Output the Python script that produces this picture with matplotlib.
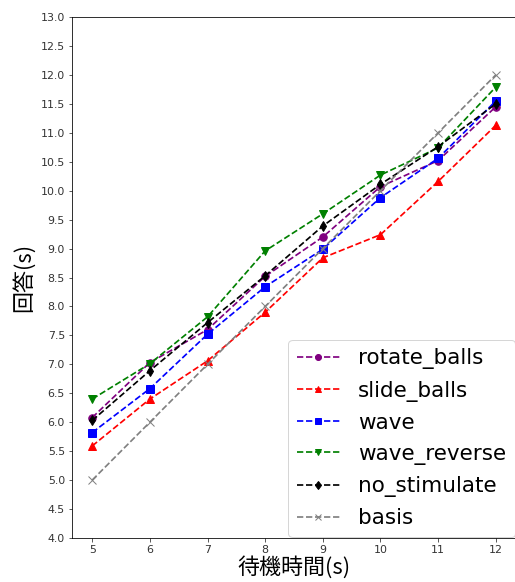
import numpy as np
import matplotlib
matplotlib.use('Agg')
import matplotlib.pyplot as plt

plt.rcParams['font.family'] = ['DejaVu Sans', 'Noto Sans CJK JP']

wait_time = [5, 6, 7, 8, 9, 10, 11, 12]
rotate_balls = [6.08, 7.03, 7.6, 8.52, 9.2, 10.07, 10.52, 11.45]
slide_balls = [5.59, 6.4, 7.06, 7.9, 8.84, 9.24, 10.16, 11.13]
wave = [5.82, 6.58, 7.52, 8.34, 8.99, 9.88, 10.56, 11.55]
wave_reverse = [6.4, 7.01, 7.82, 8.96, 9.6, 10.27, 10.74, 11.79]
no_stimulate = [6.03, 6.89, 7.72, 8.53, 9.39, 10.11, 10.76, 11.5]
basis = [5, 6, 7, 8, 9, 10, 11, 12]

fig = plt.figure(figsize=(515/72, 582/72), dpi=72)
ax = fig.add_axes([72/515, 1-538/582, 444/515, 521/582])

lw = 1.7
ms = 7.5
ax.plot(wait_time, rotate_balls, '--o', color='purple', lw=lw, ms=ms, label='rotate_balls')
ax.plot(wait_time, slide_balls, '--^', color='red', lw=lw, ms=ms, label='slide_balls')
ax.plot(wait_time, wave, '--s', color='blue', lw=lw, ms=ms, label='wave')
ax.plot(wait_time, wave_reverse, '--v', color='green', lw=lw, ms=ms, label='wave_reverse')
ax.plot(wait_time, no_stimulate, '--d', color='black', lw=lw, ms=ms, label='no_stimulate')
ax.plot(wait_time, basis, '--x', color='gray', lw=lw, ms=ms, label='basis')

ax.set_ylim(4.0, 13.0)
ax.set_yticks(np.arange(4.0, 13.01, 0.5))
ax.yaxis.set_major_formatter(plt.FormatStrFormatter('%.1f'))
ax.set_xticks(wait_time)
ax.tick_params(labelsize=11, colors='#333333')

ax.set_xlabel('待機時間(s)', fontsize=22, family=['Noto Sans CJK JP'], labelpad=1)
ax.set_ylabel('回答(s)', fontsize=22, family=['Noto Sans CJK JP'], labelpad=6)
ax.legend(loc='lower right', bbox_to_anchor=(1.0, 0.0), fontsize=21.5,
          borderaxespad=0.05, labelspacing=0.52, handletextpad=0.85,
          markerscale=0.8)

fig.savefig('out.png', dpi=72)
